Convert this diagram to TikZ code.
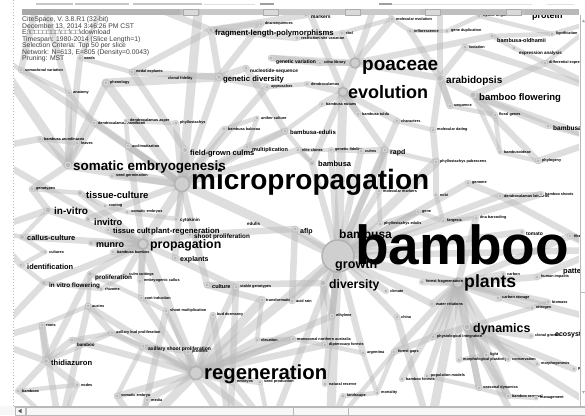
\documentclass[tikz,border=0pt]{standalone}
\usepackage{fontspec}
\setmainfont{Liberation Sans}
\usetikzlibrary{backgrounds}
\tikzset{
  dot/.style={circle, inner sep=0pt, minimum size=#1, fill=gray!55, draw=gray!28, line width=0.9pt},
  dot/.default=4pt,
  hub/.style={circle, inner sep=0pt, minimum size=#1, fill=gray!38, draw=gray!60, line width=1.5pt},
  lab/.style={anchor=base west, inner sep=0pt, text=black, font=\bfseries\fontsize{#1}{#1}\selectfont},
  lab/.default=4,
  tiny/.style={anchor=west, inner sep=0pt, text=black, font=\bfseries\fontsize{3.8}{3.8}\selectfont},
  edge/.style={draw=gray!55, line width=#1, opacity=0.47, line cap=round},
  edge/.default=6.5pt,
  hdr/.style={anchor=base west, inner sep=0pt, text=gray!50!black, font=\fontsize{6.8}{6.8}\selectfont},
  frm/.style={draw=gray!55, line width=0.6pt},
}
\newcommand{\sn}[4][4pt]{\node[dot=#1] (#2) at (#3) {}; \node[tiny] (#2l) at ([xshift=1.5pt]#2.east) {#4};}
\begin{document}
\begin{tikzpicture}[x=1pt,y=-1pt]
\useasboundingbox (0,0) rectangle (585,415);
\begin{scope}
\clip (14,15) rectangle (579,406);
% ---------- main nodes ----------
\node[hub=32pt] (hbam) at (338,256) {};
\node[hub=15pt] (hmic) at (182,184) {};
\node[hub=13pt] (hreg) at (196,373) {};
\node[hub=10pt] (hpla) at (458,283) {};
\node[hub=10pt] (hpoa) at (355,63) {};
\node[hub=9pt] (hevo) at (343,92) {};
\node[hub=10pt] (hpro) at (143,244) {};
\node[dot=7pt] (hara) at (440,78) {};
\node[dot=6pt] (hbfl) at (473,95) {};
\node[dot=6pt] (hsom) at (68,165) {};
\node[dot=5pt] (htis) at (80,193) {};
\node[dot=6pt] (hinv1) at (48,210) {};
\node[dot=5pt] (hinv2) at (88,219) {};
\node[dot=4pt] (htc) at (108,230) {};
\node[dot=5pt] (hplr) at (147,230) {};
\node[dot=5pt] (hcal) at (22,237) {};
\node[dot=5pt] (hmun) at (91,243) {};
\node[dot=4pt] (hexp) at (175,258) {};
\node[dot=4pt] (hsho) at (190,235) {};
\node[dot=4pt] (hide) at (21,265) {};
\node[dot=5pt] (hprl) at (90,274) {};
\node[dot=5pt] (hivf) at (44,283) {};
\node[dot=5pt] (hthi) at (46,361) {};
\node[dot=6pt] (hdiv) at (323,283) {};
\node[dot=6pt] (hdyn) at (467,327) {};
\node[dot=5pt] (hfra) at (211,30) {};
\node[dot=5pt] (hgen) at (219,77) {};
\node[dot=5pt] (hfgc) at (185,150) {};
\node[dot=4pt] (hbed) at (285,131) {};
\node[dot=5pt] (hbus) at (312,163) {};
\node[dot=4pt] (hrap) at (385,150) {};
\node[dot=4pt] (hafl) at (295,229) {};
\node[dot=4pt] (hcul) at (207,285) {};
\node[dot=4pt] (hgv) at (271,58) {};
\node[dot=4pt] (hnuc) at (246,68) {};
\node[dot=4pt] (hold) at (492,36) {};
\node[dot=4pt] (hexa) at (514,48) {};
\node[dot=4pt] (hmul) at (247,147) {};
\node[dot=4pt] (hbv) at (548,126) {};
\node[dot=4pt] (hmar) at (306,15) {};
\node[dot=4pt] (a15) at (176,219) {};
% ---------- small nodes ----------
\sn{a01}{21,70}{somaclonal variation}
\sn{a02}{80,58}{seeds}
\sn{a03}{132,72}{nodal explants}
\node[tiny] (lcf) at (168,79) {clonal fidelity};
\sn{a04}{106,83}{phenology}
\sn{a05}{69,93}{anatomy}
\sn{a06}{94,123}{dendrocalamus hamiltonii}
\sn{a07}{126,121}{dendrocalamus asper}
\sn{a08}{40,139}{bambusa arundinacea}
\sn{a09}{77,143}{leaves}
\sn{a10}{128,146}{acclimatization}
\sn{a11}{176,123}{phyllostachys}
\sn{a12}{32,189}{genotypes}
\sn{a13}{105,206}{rooting}
\sn{a14}{127,212}{somatic embryos}
\sn{a16}{112,176}{seed germination}
\sn{a17}{45,252}{cultures}
\sn{a18}{113,252}{bambusa bambos}
\sn{a19}{125,275}{culm cuttings}
\sn{a20}{140,281}{embryogenic callus}
\sn{a21}{101,289}{rhizome}
\sn{a22}{141,298}{root induction}
\sn{a23}{88,306}{auxins}
\sn{a24}{166,311}{shoot multiplication}
\sn{a25}{42,325}{roots}
\node[dot=4pt] (a26) at (72,340) {};
\node[lab=4.5] (a26l) at (77,346) {bamboo};
\sn{a27}{112,333}{axillary bud proliferation}
\node[dot=4pt] (a28) at (143,346) {};
\node[lab=5] (a28l) at (148,350) {axillary shoot proliferation};
\sn{a29}{77,385}{nodes}
\sn{a30}{18,391}{bamboos}
\sn{a31}{117,396}{somatic embryo}
\sn{a32}{147,400}{media}
\sn{a33}{236,287}{stable genotypes}
\sn{a34}{262,300}{transformation}
\sn{a35}{292,301}{acid rain}
\sn{a36}{213,315}{bud dormancy}
\sn{a37}{332,316}{ethylene}
\sn{a38}{386,291}{climate}
\sn{a39}{397,317}{china}
\sn{a40}{432,304}{water relations}
\sn{a41}{498,298}{carbon storage}
\sn{a42}{548,302}{biomass}
\sn{a44}{433,337}{physiological integration}
\sn{a45}{459,360}{morphological plasticity}
\sn{a46}{508,359}{conservation}
\sn{a47}{537,364}{morphogenesis}
\sn{a48}{574,369}{phenotypic plasticity}
\sn{a49}{394,352}{forest gaps}
\sn{a50}{402,379}{bamboo forests}
\sn{a51}{427,376}{population models}
\sn{a52}{479,388}{seasonal dynamics}
\sn{a53}{508,396}{bamboo removal}
\sn{a54}{536,398}{management}
\sn{a55}{377,393}{mortality}
\sn{a56}{343,396}{landscape}
\sn{a57}{325,384}{natural reserve}
\sn{a58}{293,339}{monsoonal northern australia}
\sn{a59}{325,345}{dipterocarp forests}
\sn{a60}{363,353}{argentina}
\sn{a61}{257,340}{elevation}
\sn{a62}{233,382}{embryos}
\sn{a63}{260,382}{seed production}
\sn{a64}{188,352}{plantlets}
\sn{a65}{422,282}{forest fragmentation}
\sn{a66}{503,274}{carbon}
\sn{a67}{537,277}{human impacts}
\sn{a68}{532,308}{nitrogen}
\sn{a69}{531,336}{clonal growth}
\sn{a70}{486,355}{light}
\sn{b01}{436,162}{phyllostachys pubescens}
\sn{b02}{468,183}{genome}
\sn{b03}{500,152}{bambusoideae}
\sn{b04}{538,161}{phylogeny}
\sn{b05}{436,195}{ncbi}
\sn{b06}{500,196}{dendrocalamus latiflorus}
\sn{b07}{541,194}{bamboo shoots}
\sn{b08}{379,191}{molecular markers}
\sn{b09}{476,218}{dna barcoding}
\sn{b10}{443,221}{fargesia}
\sn{b11}{380,224}{phyllostachys edulis}
\sn{b12}{418,212}{gene}
\sn{b13}{570,236}{fiber}
\node[dot=4pt] (b14) at (522,232) {};
\node[lab=5] (b14l) at (526,235) {tomato};
\sn{c02}{465,47}{isolation}
\sn{c04}{552,34}{lignification}
\sn{c05}{545,63}{differential expression analysis}
\sn{c06}{410,31}{inflorescence}
\sn{c07}{447,31}{gene duplication}
\sn{c08}{392,19}{molecular evolution}
\sn{c09}{479,16}{hybrid origin}
\sn{c10}{397,121}{characters}
\sn{c11}{433,130}{molecular dating}
\sn{c12}{450,106}{sequence}
\sn{c13}{495,115}{floral genes}
\sn{d01}{261,24}{dna-sequences}
\sn{d02}{297,38}{restriction-site variation}
\sn{d03}{342,33}{rbcl}
\sn{d04}{320,63}{cdna library}
\sn{d05}{267,87}{approaches}
\sn{d06}{307,84}{dendrocalamus}
\sn{d07}{322,104}{bambusa nutans}
\sn{d08}{358,114}{bambusa tulda}
\sn{d09}{224,129}{bambusa balcooa}
\sn{d10}{257,118}{anther culture}
\sn{d11}{298,150}{elite clones}
\sn{d12}{331,150}{genetic fidelity}
\sn{d13}{361,151}{culms}
% ---------- main labels ----------
\node[lab=12] (tbus2) at (339,238) {bambusa};
\node[lab=55] (tbam) at (355,264) {bamboo};
\node[lab=28] (tmic) at (191,189) {micropropagation};
\node[lab=20.3] (treg) at (204,379) {regeneration};
\node[lab=19] (tpoa) at (362,70) {poaceae};
\node[lab=18] (tevo) at (348,98) {evolution};
\node[lab=10] (tara) at (446,83) {arabidopsis};
\node[lab=9.5] (tbfl) at (479,100) {bamboo flowering};
\node[lab=13.4] (tsom) at (73,170) {somatic embryogenesis};
\node[lab=9.5] (ttis) at (86,198) {tissue-culture};
\node[lab=10] (tinv1) at (54,214) {in-vitro};
\node[lab=9.2] (tinv2) at (94,225) {invitro};
\node[lab=7.5] (ttc) at (113,233) {tissue cult};
\node[lab=7.8] (tplr) at (151,233) {plant-regeneration};
\node[lab=7.4] (tcal) at (27,240) {callus-culture};
\node[lab=9] (tmun) at (96,247) {munro};
\node[lab=12.3] (tpro) at (150,248) {propagation};
\node[lab=7] (texp) at (180,261) {explants};
\node[lab=6.3] (tsho) at (194,238) {shoot proliferation};
\node[lab=7.4] (tide) at (27,269) {identification};
\node[lab=6.3] (tprl) at (95,279) {proliferation};
\node[lab=6.3] (tivf) at (49,287) {in vitro flowering};
\node[lab=7.6] (tthi) at (51,365) {thidiazuron};
\node[lab=12.6] (tgro) at (335,268) {growth};
\node[lab=12.2] (tdiv) at (329,288) {diversity};
\node[lab=17.7] (tpla) at (464,287) {plants};
\node[lab=12.4] (tdyn) at (473,332) {dynamics};
\node[lab=7.7] (tfra) at (215,35) {fragment-length-polymorphisms};
\node[lab=7.7] (tgen) at (223,81) {genetic diversity};
\node[lab=5] (tgv) at (276,63) {genetic variation};
\node[lab=4.8] (tnuc) at (250,72) {nucleotide-sequence};
\node[lab=5] (tmar) at (311,18) {markers};
\node[lab=9] (tprt) at (532,18) {protein};
\node[lab=5.5] (told) at (497,42) {bambusa-oldhamii};
\node[lab=4.5] (texa) at (519,54) {expression analysis};
\node[lab=7.5] (tfgc) at (190,155) {field-grown culms};
\node[lab=5.5] (tmul) at (252,151) {multiplication};
\node[lab=6] (tbed) at (290,134) {bambusa-edulis};
\node[lab=7.5] (tbus) at (318,166) {bambusa};
\node[lab=7] (trap) at (390,154) {rapd};
\node[lab=7] (tafl) at (300,233) {aflp};
\node[lab=5.5] (tcul) at (212,288) {culture};
\node[lab=4.5] (tcyt) at (180,221) {cytokinin};
\node[lab=4.5] (tedu) at (247,225) {edulis};
\node[lab=7] (teco) at (555,336) {ecosystem};
\node[lab=7.5] (tpat) at (563,273) {patterns};
\node[lab=6.5] (tbv) at (553,130) {bambusa vulgaris};
\end{scope}
% ---------- connectors ----------
\begin{pgfonlayer}{background}
\fill[white] (0,0) rectangle (585,415);
\begin{scope}
\clip (14,15) rectangle (579,406);
\coordinate (o1) at (-20,150); \coordinate (o2) at (-10,340); \coordinate (o3) at (60,430);
\coordinate (o4) at (140,430); \coordinate (o5) at (270,430); \coordinate (o6) at (330,430);
\coordinate (o7) at (430,430); \coordinate (o8) at (520,430); \coordinate (o9) at (600,410);
\coordinate (o10) at (600,320); \coordinate (o11) at (600,250); \coordinate (o12) at (600,140);
\coordinate (o13) at (600,20); \coordinate (o14) at (560,-10); \coordinate (o15) at (440,-10);
\coordinate (o16) at (380,-10); \coordinate (o17) at (300,-10); \coordinate (o18) at (200,-10);
\coordinate (o19) at (110,-10); \coordinate (o20) at (-10,50); \coordinate (o21) at (-10,230);
\coordinate (o22) at (40,-10); \coordinate (o23) at (230,430); \coordinate (o24) at (600,90);
\foreach \a/\b in {hbam/hpla,hbam/hmic,hbam/hreg,hbam/hevo,hmic/hsom,hmic/hpro,hpla/hdyn,hreg/hpro,hpoa/hevo,hbam/o6,hpla/o7,hmic/o18,hreg/o4,hmic/a04,hbam/b01,hpla/a41,hreg/a34,hsom/o20,hgen/a04}
  \draw[edge=9pt] (\a.center) -- (\b.center);
\foreach \a/\b in {hbam/hdiv,hbam/hbus,hbam/hrap,hbam/hafl,hbam/b02,hbam/b08,hbam/b06,hbam/b07,hbam/b11,hbam/b14,hbam/a38,hbam/a39,hbam/a40,hbam/a35,hbam/a37,hbam/o5,hbam/o11,hbam/d12,hbam/d13,hbam/b12,hbam/a57,
  hpla/a42,hpla/a44,hpla/a45,hpla/a46,hpla/a49,hpla/a50,hpla/a51,hpla/b09,hpla/o10,hpla/a40,hpla/a65,hpla/a66,hpla/a67,hpla/b13,hpla/a52,hpla/a53,
  hreg/a32,hreg/a31,hreg/a36,hreg/a33,hreg/o5,hreg/a37,hreg/a23,hreg/a26,hreg/a27,hreg/a62,hreg/a63,hreg/a64,hreg/a59,hreg/a61,hreg/a58,
  hmic/hfgc,hmic/hinv2,hmic/a06,hmic/hbed,hmic/hcul,hmic/hexp,hmic/a11,hmic/a16,hmic/d09,hmic/a10,hmic/hmul,
  hpro/hmun,hpro/hplr,hpro/hinv1,hpro/htis,hpro/hprl,hpro/hexp,hpro/hcal,hpro/hivf,hpro/hsho,hpro/a18,hpro/a19,hpro/a20,hpro/a22,hpro/o1,hpro/htc,
  hsom/a08,hsom/a12,hsom/a09,hsom/a05,
  hpoa/hara,hpoa/hgv,hpoa/o16,hpoa/d03,hpoa/hold,hpoa/d04,hpoa/c08,
  hevo/d06,hevo/d07,hevo/o17,hevo/d08,hevo/c10,
  hara/hbfl,hara/c02,hara/o15,hara/c11,hara/c06,hara/c12,
  hbfl/c05,hbfl/o12,hbfl/c13,hbfl/b04,hbfl/hbv,
  hgen/hnuc,hgen/hfra,hgen/d05,hgen/a03,
  hfra/o19,hfra/d01,hfra/d02,hfra/hmar,
  hthi/a26,hthi/a30,hthi/a29,hthi/o2,hthi/a25,hthi/hprl,
  hdyn/a44,hdyn/a47,hdyn/a48,hdyn/o9,hdyn/a53,hdyn/a52,hdyn/a69,hdyn/a70,hdyn/o8,
  a01/hmic,a02/hsom,a03/hfgc,a04/a09,a06/hsom,a10/hpro,hgen/hmic,hfra/a03,d01/hgen,hnuc/hbed,hgv/d04,hevo/hbus,hevo/hrap,
  c10/hbam,c11/b01,b02/b06,b06/o11,b13/o11,a67/o11,a44/a49,a60/hbam,a58/hreg,a56/o6,a34/hcul,a35/hafl,a37/hdiv,hdiv/a59,
  a62/o5,a31/o4,a27/a23,a12/hinv1,o21/hinv1,hsho/hafl,hexp/a33,hmul/hbed,d11/hmic,d13/hrap,hrap/b08,b05/b01,c12/hara,
  a01/o22,a05/o22,a08/o1,a25/o2,a23/o3,a36/o23,a33/o23,hcul/hdiv,d05/hmic,c02/o24,c05/o24,b04/o12,
  a39/o7,a24/o4,a22/o23,hide/o21,hivf/o2,a25/o3}
  \draw[edge] (\a.center) -- (\b.center);
\foreach \a/\b in {a01/a05,a02/a03,a05/a06,a07/a10,a08/a09,a12/htis,a13/a14,a17/hcal,hide/a17,hivf/a21,hprl/a23,a24/a22,a28/a27,a28/a31,a29/o3,a30/o3,b03/b04,b05/b10,b06/b07,b09/b10,c04/o13,c07/c06,c09/o14,c10/c11,c12/c13,d09/d10,d10/hmul,d11/d12,a58/a59,a59/a60,a60/a55,a56/a55,a61/a58,a54/a53,a52/a53,hold/c04,hexa/c05,hexa/hold,hbed/d07,hbus/d11,hrap/b01,a68/a42,a68/hdyn,o21/hcal,a02/o19,a01/o20,a07/a11,a13/htis,a14/a15,a15/hmic,a24/hreg,a28/hreg,b03/hbfl,c08/o16,a21/a19,
  a41/a68,a45/a70,a51/a52,a49/a55,a61/a34,a63/o5,a32/o4,hthi/a27,a25/a23,hivf/hide,hinv1/hcal,a30/a29,hprl/a22,hbed/hbus,d12/d13,b08/b11,b11/b12,b12/b10,c13/b03,hbv/o12,c05/o13,c04/c09,c07/c09,c06/c08,d02/d03,d03/c08,d05/d06,hmar/o17,a64/a28,a26/a27,a49/o6}
  \draw[edge=4.5pt] (\a.center) -- (\b.center);
\end{scope}
\end{pgfonlayer}
% ---------- header ----------
\node[hdr] (h1) at (22,21.5) {CiteSpace, V. 3.8.R1 (32-bit)};
\node[hdr] (h2) at (22,28) {December 13, 2014 3:46:26 PM CST};
\node[hdr] (h3) at (22,34.6) {E:\textbackslash□□□□□□□\textbackslash□□\textbackslash□□\textbackslash download};
\node[hdr] (h4) at (22,41.2) {Timespan: 1980-2014 (Slice Length=1)};
\node[hdr] (h5) at (22,47.7) {Selection Criteria: Top 50 per slice};
\node[hdr] (h6) at (22,54.2) {Network: N=613, E=805 (Density=0.0043)};
\node[hdr] (h7) at (22,60.8) {Pruning: MST};
% ---------- window frame ----------
\fill[white] (0,0) rectangle (585,8.5);
\foreach \a/\b in {36/73,75/129,133/202}
  \draw[gray!45, line width=1.1pt] (\a,4) -- (\b,4);
\foreach \a/\b in {204/255,386/532,547/574}
  \draw[gray!25, line width=0.9pt] (\a,4) -- (\b,4);
\foreach \a/\b in {260/274,379/392}
  \draw[gray!75, line width=1.3pt] (\a,4) -- (\b,4);
\fill[gray!50] (22,8.8) rectangle (579,15.3);
\fill[gray!68] (22,8.8) rectangle (80,15.3);
\fill[gray!58] (80,8.8) rectangle (180,15.3);
\fill[gray!42] (200,8.8) rectangle (420,15.3);
\fill[gray!55] (525,8.8) rectangle (579,15.3);
\foreach \x in {183,263,345,425,506}
  \draw[gray!65, fill=gray!30, line width=0.5pt] (\x,9.2) rectangle (\x+15,14.9);
\fill[white] (0,0) rectangle (12.5,415);
\draw[gray!55, line width=1pt, dotted] (13,0) -- (13,406);
\fill[white] (579.5,15.3) rectangle (585,406);
\draw[frm] (580.5,15.3) -- (580.5,406);
\draw[frm] (580.5,292) -- (585,292);
\fill[gray!70] (582,22) -- (583.5,19.5) -- (585,22) -- cycle;
\fill[gray!70] (582,391) -- (585,391) -- (583.5,393.5) -- cycle;
\fill[gray!6] (0,406) rectangle (585,415);
\draw[frm] (14,406) -- (585,406);
\draw[frm] (15,407.5) rectangle (25,415);
\fill[gray!70!black] (18,411) -- (21.5,408.8) -- (21.5,413.2) -- cycle;
\draw[frm] (26,407.5) rectangle (585,415);
\draw[frm] (293,407.5) -- (293,415);
\draw[frm] (348,407.5) -- (348,415);
\end{tikzpicture}
\end{document}
